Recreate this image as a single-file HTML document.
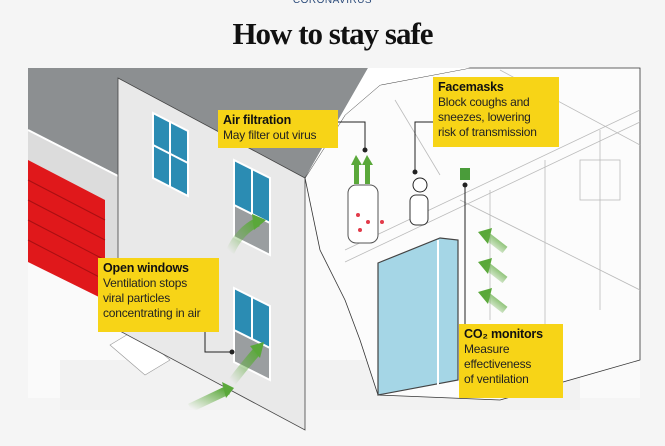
<!DOCTYPE html>
<html><head><meta charset="utf-8"><style>
body{margin:0;background:#f5f5f5;width:665px;height:446px;overflow:hidden;font-family:"Liberation Sans",sans-serif}
.lab{position:absolute;background:#f7d417;color:#222;font-size:12px;line-height:15px;padding:3px 5px;box-sizing:border-box;font-family:"Liberation Sans",sans-serif;letter-spacing:-0.2px;white-space:nowrap}
.lab b{display:block;font-size:12.5px;color:#111}
</style></head><body>
<div style="position:absolute;left:0;width:665px;top:-5px;text-align:center;font-size:10px;color:#2a4a7a;letter-spacing:0.5px">CORONAVIRUS</div>
<div style="position:absolute;left:0;width:665px;top:16px;text-align:center;font-family:'Liberation Serif',serif;font-weight:bold;font-size:31px;letter-spacing:-1px;color:#111">How to stay safe</div>
<svg width="665" height="446" style="position:absolute;left:0;top:0">
<defs><linearGradient id="ar" x1="0" y1="1" x2="1" y2="0"><stop offset="0" stop-color="#6bb04a" stop-opacity="0"/><stop offset="1" stop-color="#5aa83a"/></linearGradient></defs>
<rect x="28" y="68" width="612" height="330" fill="#fafafa"/>
<rect x="60" y="360" width="520" height="50" fill="#f2f2f2"/>
<polygon points="28,68 118,68 118,300 28,255" fill="#dcdcdc"/>
<polygon points="28,68 368,68 305,178 118,78 118,175 28,130" fill="#8c8f91"/>
<line x1="28" y1="130" x2="118" y2="176" stroke="#fff" stroke-width="2"/>
<polygon points="28,160 105,200 105,300 28,262" fill="#e0181b"/>
<g stroke="#a80f12" stroke-width="1">
<line x1="28" y1="180" x2="105" y2="220"/><line x1="28" y1="200" x2="105" y2="240"/><line x1="28" y1="220" x2="105" y2="260"/><line x1="28" y1="240" x2="105" y2="280"/></g>
<polygon points="135,245 165,262 165,350 135,335" fill="#e0181b"/>
<polygon points="110,345 135,330 170,360 145,375" fill="#fff" stroke="#999" stroke-width="0.6"/>
<polygon points="118,78 305,178 305,430 118,330" fill="#e9e9e9" stroke="#444" stroke-width="0.8"/>
<g stroke="#fff" stroke-width="2">
<polygon points="153,113 188,131 188,196 153,178" fill="#2b8cb3"/>
<line x1="170" y1="122" x2="170" y2="187"/><line x1="153" y1="145" x2="188" y2="163"/>
<polygon points="234,160 270,178 270,250 234,232" fill="#2b8cb3"/>
<line x1="252" y1="169" x2="252" y2="241"/>
<polygon points="234,205 270,223 270,255 234,237" fill="#9a9ea0"/>
<polygon points="234,288 270,306 270,375 234,357" fill="#2b8cb3"/>
<line x1="252" y1="297" x2="252" y2="366"/>
<polygon points="234,330 270,348 270,380 234,362" fill="#9a9ea0"/>
</g>
<path d="M230,252 Q240,230 258,222" stroke="url(#ar)" stroke-width="9" fill="none"/>
<polygon points="252,214 266,220 254,230" fill="#5aa83a"/>
<path d="M232,382 Q245,365 258,350" stroke="url(#ar)" stroke-width="9" fill="none"/>
<polygon points="250,346 264,342 260,358" fill="#5aa83a"/>
<path d="M190,408 L228,390" stroke="url(#ar)" stroke-width="9"/>
<polygon points="222,382 234,388 226,398" fill="#5aa83a"/>
<polygon points="305,178 345,115 380,85 470,68 640,68 640,360 500,400 378,395 360,340 345,300 320,250" fill="#fcfcfc" stroke="#333" stroke-width="0.8"/>
<polygon points="305,178 368,68 470,68 380,85 345,115" fill="#fff"/>
<g stroke="#bbb" stroke-width="0.8" fill="none">
<line x1="345" y1="250" x2="640" y2="110"/><line x1="345" y1="262" x2="640" y2="122"/>
<line x1="460" y1="200" x2="640" y2="290"/><line x1="545" y1="160" x2="545" y2="330"/>
<line x1="600" y1="130" x2="600" y2="310"/><line x1="395" y1="100" x2="440" y2="175"/>
<line x1="500" y1="70" x2="640" y2="145"/><rect x="580" y="160" width="40" height="40"/>
<line x1="490" y1="190" x2="490" y2="320"/>
</g>
<polygon points="378,263 440,238 458,240 458,380 378,395" fill="#a5d6e6" stroke="#444" stroke-width="1.2"/>
<line x1="438" y1="240" x2="438" y2="385" stroke="#fff" stroke-width="2"/>
<rect x="348" y="185" width="30" height="58" rx="8" fill="#fff" stroke="#555"/>
<g fill="#e23b4a"><circle cx="358" cy="215" r="2"/><circle cx="368" cy="222" r="2"/><circle cx="360" cy="230" r="2"/><circle cx="382" cy="222" r="2"/></g>
<rect x="354" y="162" width="5" height="22" fill="#5aa83a"/><rect x="365" y="162" width="5" height="22" fill="#5aa83a"/>
<polygon points="351,165 356,155 362,165" fill="#5aa83a"/><polygon points="362,165 367,155 373,165" fill="#5aa83a"/>
<circle cx="420" cy="185" r="7" fill="#fff" stroke="#222"/><rect x="410" y="195" width="18" height="30" rx="6" fill="#fff" stroke="#333"/>
<rect x="460" y="168" width="10" height="12" fill="#4a9c3a"/>
<g fill="#5aa83a"><polygon points="478,232 492,228 488,244"/><polygon points="478,262 492,258 488,274"/><polygon points="478,292 492,288 488,304"/></g>
<g stroke="url(#ar)" stroke-width="8"><line x1="505" y1="250" x2="487" y2="236"/><line x1="505" y1="280" x2="487" y2="266"/><line x1="505" y1="310" x2="487" y2="296"/></g>
<g stroke="#222" stroke-width="1" fill="none">
<polyline points="338,122 365,122 365,150"/><polyline points="433,122 415,122 415,172"/>
<line x1="465" y1="185" x2="465" y2="324"/><polyline points="205,332 205,352 232,352"/></g>
<g fill="#222"><circle cx="365" cy="150" r="2.5"/><circle cx="415" cy="172" r="2.5"/><circle cx="465" cy="185" r="2.5"/><circle cx="232" cy="352" r="2.5"/></g>
</svg>
<div class="lab" style="left:218px;top:110px;width:120px;height:38px"><b>Air filtration</b>May filter out virus</div>
<div class="lab" style="left:433px;top:77px;width:126px;height:70px"><b>Facemasks</b>Block coughs and<br>sneezes, lowering<br>risk of transmission</div>
<div class="lab" style="left:98px;top:258px;width:121px;height:74px"><b>Open windows</b>Ventilation stops<br>viral particles<br>concentrating in air</div>
<div class="lab" style="left:459px;top:324px;width:104px;height:74px"><b>CO₂ monitors</b>Measure<br>effectiveness<br>of ventilation</div>
</body></html>
